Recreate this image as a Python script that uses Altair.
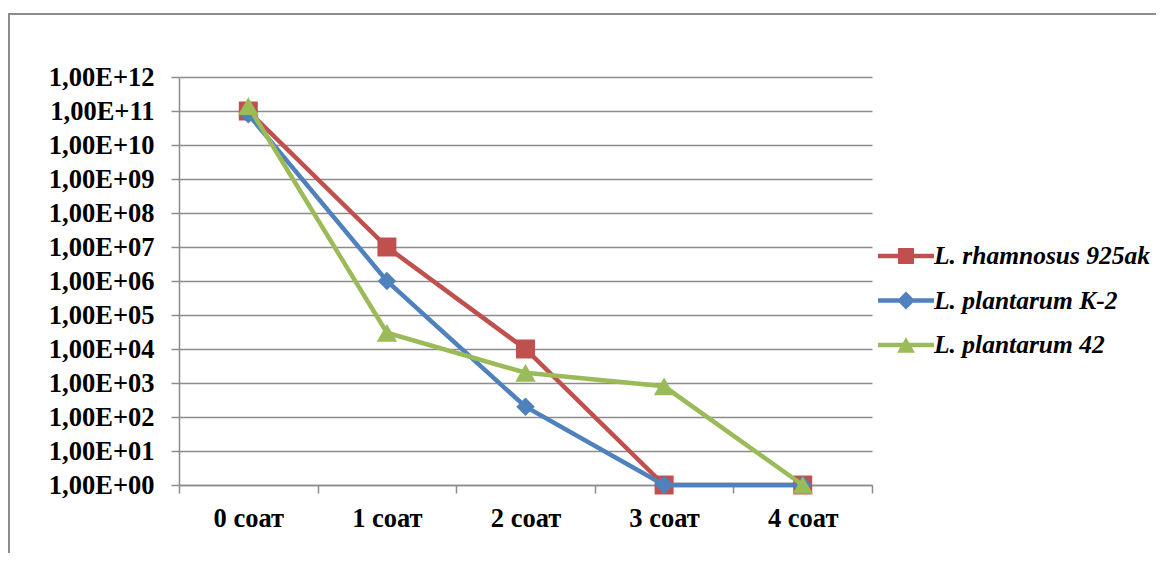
import altair as alt
import pandas as pd

categories = ["0 соат", "1 соат", "2 соат", "3 соат", "4 соат"]
series_names = ["L. rhamnosus 925ak", "L. plantarum K-2", "L. plantarum 42"]
rhamnosus_925ak = [1e11, 1e7, 1e4, 1, 1]
plantarum_k2 = [8e10, 1e6, 2e2, 1, 1]
plantarum_42 = [1.4e11, 3e4, 2e3, 8e2, 1]
series_values = [rhamnosus_925ak, plantarum_k2, plantarum_42]
y_ticks = [10 ** i for i in range(13)]

colors = ["#C0504D", "#4F81BD", "#9BBB59"]
marker_shapes = ["square", "diamond", "M0,-0.866L1,0.866L-1,0.866Z"]
marker_sizes = [360, 340, 420]
legend_paths = [
    "M-1,-0.1L1.545,-0.1L1.545,0.1L-1,0.1Z M-0.09,-0.364L0.636,-0.364L0.636,0.364L-0.09,0.364Z",
    "M-1,-0.1L1.545,-0.1L1.545,0.1L-1,0.1Z M0.273,-0.41L0.682,0L0.273,0.41L-0.136,0Z",
    "M-1,-0.1L1.545,-0.1L1.545,0.1L-1,0.1Z M0.273,-0.354L0.682,0.354L-0.136,0.354Z",
]

GRAY = "#8c8c8c"
FONT = "Liberation Serif, Times New Roman, DejaVu Serif, serif"
FS = 26.5
LEGEND_FS = 25.5

x_axis = alt.Axis(
    title=None, labelAngle=0, tickBand="extent", tickSize=8, tickColor=GRAY,
    tickWidth=1.5, domainColor=GRAY, domainWidth=1.5, labelFont=FONT,
    labelFontSize=FS, labelFontWeight="bold", labelColor="black",
    labelPadding=12, grid=False,
)
y_axis = alt.Axis(
    title=None, values=y_ticks,
    labelExpr="'1,00E+' + (datum.value < 1e10 ? '0' : '') + format(round(log(datum.value) / LN10), 'd')",
    tickSize=8, tickColor=GRAY, tickWidth=1.5, domainColor=GRAY, domainWidth=1.5,
    grid=True, gridColor=GRAY, gridWidth=1.5, labelFont=FONT, labelFontSize=FS,
    labelFontWeight="bold", labelColor="black", labelPadding=17, labelOverlap=False,
)

x_enc = alt.X(
    "time:N", sort=categories, bandPosition=0.5,
    scale=alt.Scale(type="band", domain=categories, paddingInner=0, paddingOuter=0),
    axis=x_axis,
)
y_enc = alt.Y(
    "value:Q", scale=alt.Scale(type="log", domain=[1, 1e12], nice=False), axis=y_axis
)

layers = []
for name, vals, c, shp, sz in zip(series_names, series_values, colors, marker_shapes, marker_sizes):
    df = pd.DataFrame({"time": categories, "value": vals, "series": name})
    base = alt.Chart(df)
    layers.append(base.mark_line(color=c, strokeWidth=4.5).encode(x=x_enc, y=y_enc))
    layers.append(
        base.mark_point(shape=shp, size=sz, filled=True, color=c, opacity=1, strokeWidth=0)
        .encode(x=x_enc, y=y_enc)
    )

legend = alt.Legend(
    orient="none", legendX=699, legendY=157, title=None, symbolSize=1936,
    symbolStrokeWidth=0, labelFont=FONT, labelFontSize=LEGEND_FS, labelFontWeight="bold",
    labelFontStyle="italic", labelColor="black", labelOffset=12, labelLimit=400,
    rowPadding=8.5, padding=0,
)
legend_df = pd.DataFrame({"series": series_names})
legend_layer = (
    alt.Chart(legend_df)
    .mark_point(filled=True, opacity=1)
    .transform_filter("false")
    .encode(
        color=alt.Color("series:N", scale=alt.Scale(domain=series_names, range=colors), legend=legend),
        shape=alt.Shape("series:N", scale=alt.Scale(domain=series_names, range=legend_paths), legend=legend),
    )
)
layers.append(legend_layer)

frame_df = pd.DataFrame({"k": [0]})
top_border = alt.Chart(frame_df).mark_rule(color=GRAY, strokeWidth=2).encode(
    x=alt.value(-171), x2=alt.value(990), y=alt.value(-63)
)
left_border = alt.Chart(frame_df).mark_rule(color=GRAY, strokeWidth=2).encode(
    x=alt.value(-170), y=alt.value(-63), y2=alt.value(480)
)
layers = [top_border, left_border] + layers

chart = (
    alt.layer(*layers)
    .properties(
        width=693, height=408,
        autosize=alt.AutoSizeParams(type="none"),
        padding={"left": 171, "top": 69, "right": 284, "bottom": 68},
    )
    .configure_view(strokeWidth=0)
)

chart.save("out.html", embed_options={"renderer": "svg", "actions": False})
